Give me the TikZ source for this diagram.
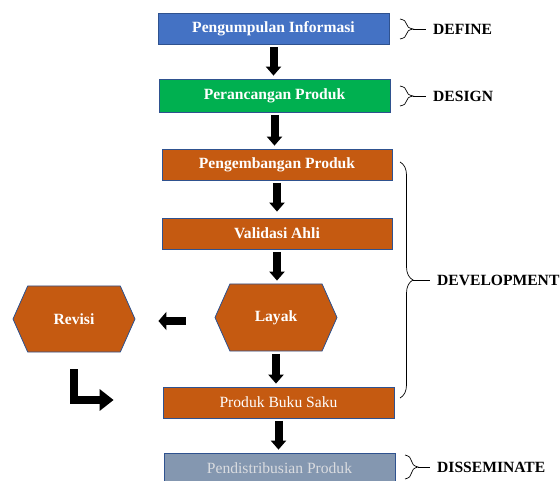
\documentclass[tikz,border=0pt]{standalone}
\usepackage{fontspec}
\setmainfont{Liberation Serif}
\usetikzlibrary{arrows.meta,shapes.symbols,decorations.pathreplacing}
\definecolor{fillblue}{RGB}{68, 114, 196}
\definecolor{fillgreen}{RGB}{0, 176, 80}
\definecolor{fillorange}{RGB}{197, 90, 17}
\definecolor{fillgrey}{RGB}{132, 151, 176}
\definecolor{edgeblue}{RGB}{47, 82, 143}
\definecolor{softgrey}{RGB}{218, 220, 224}
\newcommand{\boxfont}{\fontsize{15.6}{18}\selectfont}

\tikzset{
  stage/.style={draw=edgeblue, line width=0.8pt, minimum width=231pt, minimum height=31pt,
    inner sep=0pt, text=white, font=\boxfont\bfseries},
  hexa/.style={stage, signal, signal to=west and east, signal pointer angle=132,
    minimum width=122pt, minimum height=67pt, fill=fillorange},
  blockarrow/.style={line width=8pt, -{Triangle[width=15pt,length=9pt]},
    shorten <=2.5pt, shorten >=3pt},
  phase/.style={decorate, decoration={brace,amplitude=13pt}, line width=0.7pt},
  phaselabel/.style={anchor=west, inner sep=0pt, font=\boxfont\bfseries}
}

\begin{document}
\begin{tikzpicture}[x=1pt,y=-1pt]
  \useasboundingbox (0,0) rectangle (560,481);

  % main flow
  \node[stage, fill=fillblue] (info) at (273.5,29) {Pengumpulan Informasi};
  \node[stage, fill=fillgreen, minimum height=33pt] (rancang) at (274.5,95.5) {Perancangan Produk};
  \node[stage, fill=fillorange, minimum width=230pt] (kembang) at (277,164.5) {Pengembangan Produk};
  \node[stage, fill=fillorange, minimum width=230pt] (validasi) at (277,233.5) {Validasi Ahli};
  \node[hexa] (layak) at (276,317.5) {Layak};
  \node[hexa, minimum height=66pt] (revisi) at (74,319) {Revisi};
  \node[stage, fill=fillorange, font=\boxfont] (buku) at (278.5,402.5) {Produk Buku Saku};
  \node[stage, fill=fillgrey, font=\boxfont, text=softgrey] (sebar) at (279.5,468.5) {Pendistribusian Produk};

  \draw[blockarrow] (info.south) -- (info.south |- rancang.north);
  \draw[blockarrow] (rancang.south) -- (rancang.south |- kembang.north);
  \draw[blockarrow, shorten >=6pt] (kembang.south) -- (kembang.south |- validasi.north);
  \draw[blockarrow] (validasi.south) -- (validasi.south |- layak.north);
  \draw[blockarrow] (layak.south) -- (layak.south |- buku.north);
  \draw[blockarrow] (buku.south) -- (buku.south |- sebar.north);

  % revision loop
  \coordinate (back) at ([yshift=-3.5pt]layak.west);
  \draw[line width=8pt, -{Triangle[width=18pt,length=8pt]}, shorten <=29pt, shorten >=23pt]
    (back) -- (back -| revisi.east);
  \draw[line width=8pt, -{Triangle[width=21pt,length=14pt]}]
    ([yshift=-17pt]revisi.south) |- ([xshift=-49pt,yshift=2.5pt]buku.west);

  % phases
  \draw[phase] (400,19) -- (400,39);
  \node[phaselabel] (define) at (433,29) {DEFINE};
  \draw[line width=0.7pt, shorten >=7pt] (413,29) -- (define.west);

  \draw[phase] (400,86) -- (400,106);
  \node[phaselabel] (design) at (433,96) {DESIGN};
  \draw[line width=0.7pt, shorten >=7pt] (413,96) -- (design.west);

  \draw[phase] (400,162) -- (400,398);
  \node[phaselabel] (develop) at (437,280) {DEVELOPMENT};
  \draw[line width=0.7pt, shorten >=7pt] (413,280) -- (develop.west);

  \draw[phase] (405,455) -- (405,479);
  \node[phaselabel] (dissem) at (437,467) {DISSEMINATE};
  \draw[line width=0.7pt, shorten >=7pt] (418,467) -- (dissem.west);
\end{tikzpicture}
\end{document}
